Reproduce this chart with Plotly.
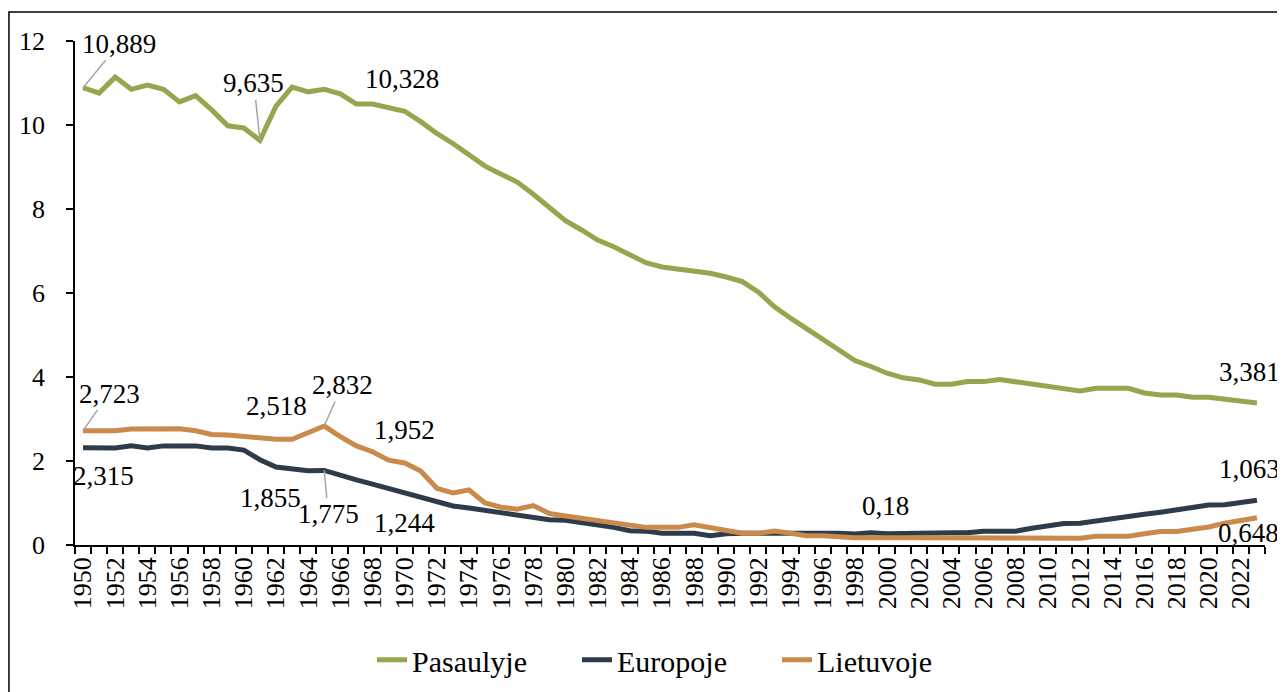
import plotly.graph_objects as go

years = list(range(1950, 2024))

pasaulyje = [10.889, 10.76, 11.14, 10.85, 10.95, 10.85, 10.55, 10.70, 10.36, 9.98,
             9.93, 9.635, 10.45, 10.90, 10.79, 10.85, 10.74, 10.50, 10.50, 10.40,
             10.328, 10.08, 9.80, 9.56, 9.29, 9.02, 8.83, 8.64, 8.35, 8.04,
             7.72, 7.50, 7.26, 7.10, 6.90, 6.72, 6.62, 6.57, 6.52, 6.47,
             6.38, 6.27, 6.02, 5.67, 5.40, 5.14, 4.90, 4.64, 4.39, 4.25,
             4.09, 3.98, 3.93, 3.83, 3.83, 3.89, 3.89, 3.94, 3.89, 3.83,
             3.78, 3.72, 3.67, 3.73, 3.73, 3.73, 3.62, 3.57, 3.57, 3.52,
             3.52, 3.47, 3.42, 3.381]

europoje = [2.315, 2.31, 2.31, 2.36, 2.31, 2.36, 2.36, 2.36, 2.31, 2.31,
            2.26, 2.03, 1.855, 1.80, 1.77, 1.775, 1.65, 1.55, 1.45, 1.35,
            1.244, 1.13, 1.02, 0.93, 0.88, 0.83, 0.77, 0.70, 0.65, 0.60,
            0.59, 0.54, 0.49, 0.42, 0.34, 0.33, 0.28, 0.28, 0.28, 0.22,
            0.27, 0.28, 0.28, 0.29, 0.28, 0.28, 0.28, 0.28, 0.26, 0.29,
            0.27, 0.28, 0.29, 0.29, 0.29, 0.29, 0.33, 0.33, 0.33, 0.40,
            0.45, 0.51, 0.52, 0.58, 0.63, 0.68, 0.73, 0.78, 0.83, 0.90,
            0.95, 0.96, 1.01, 1.063]

lietuvoje = [2.723, 2.72, 2.72, 2.76, 2.77, 2.77, 2.77, 2.72, 2.63, 2.62,
             2.58, 2.54, 2.52, 2.518, 2.67, 2.832, 2.58, 2.36, 2.22, 2.02,
             1.952, 1.76, 1.35, 1.24, 1.31, 1.00, 0.90, 0.85, 0.94, 0.75,
             0.69, 0.64, 0.58, 0.52, 0.46, 0.42, 0.42, 0.42, 0.48, 0.42,
             0.33, 0.28, 0.28, 0.33, 0.28, 0.22, 0.22, 0.19, 0.17, 0.17,
             0.18, 0.17, 0.17, 0.17, 0.17, 0.17, 0.17, 0.17, 0.17, 0.16,
             0.16, 0.16, 0.16, 0.21, 0.21, 0.21, 0.27, 0.32, 0.32, 0.37,
             0.43, 0.52, 0.59, 0.648]

tick_years = list(range(1950, 2023, 2))
y_ticks = [0, 2, 4, 6, 8, 10, 12]

series_names = ["Pasaulyje", "Europoje", "Lietuvoje"]
series_colors = ["#9AA34E", "#2E3B4B", "#C98A4B"]
legend_pad = [6, 6, 0]

# labelled points: (series index, year, label text, dx, dy, leader line, anchor)
labels = [
    (0, 1950, "10,889", 36, -44, True, "center"),
    (0, 1961, "9,635", -6, -57, True, "center"),
    (0, 1970, "10,328", -3, -32, False, "center"),
    (0, 2023, "3,381", 25, -31, False, "right"),
    (2, 1950, "2,723", 26, -37, True, "center"),
    (2, 1963, "2,518", -16, -33, False, "center"),
    (2, 1965, "2,832", 18, -41, True, "center"),
    (2, 1970, "1,952", 0, -33, False, "center"),
    (2, 2000, "0,18", -2, -31, False, "center"),
    (2, 2023, "0,648", 24, 15, False, "right"),
    (1, 1950, "2,315", 20, 28, False, "center"),
    (1, 1962, "1,855", -6, 31, False, "center"),
    (1, 1965, "1,775", 4, 44, True, "center"),
    (1, 1970, "1,244", 0, 30, False, "center"),
    (1, 2023, "1,063", 25, -31, False, "right"),
]

FONT = "Liberation Serif"
data = [pasaulyje, europoje, lietuvoje]
NB = "\u00a0"

fig = go.Figure()
for name, vals, col, pad in zip(series_names, data, series_colors, legend_pad):
    fig.add_trace(go.Scatter(x=years, y=vals, mode="lines", name=name + NB * pad,
                             line=dict(color=col, width=5), cliponaxis=False))

annotations = []
for si, yr, txt, dx, dy, lead, anc in labels:
    yv = data[si][years.index(yr)]
    if lead:
        annotations.append(dict(x=yr, y=yv, xref="x", yref="y", text=txt,
                                showarrow=True, ax=dx, ay=dy, arrowhead=0,
                                arrowwidth=1.5, arrowcolor="#A6A6A6",
                                font=dict(family=FONT, size=27, color="black")))
    else:
        annotations.append(dict(x=yr, y=yv, xref="x", yref="y", text=txt,
                                showarrow=False, xshift=dx, yshift=-dy, xanchor=anc,
                                font=dict(family=FONT, size=27, color="black")))

fig.update_layout(
    width=1277, height=684,
    margin=dict(l=67, r=20, t=33, b=147, autoexpand=False),
    paper_bgcolor="white", plot_bgcolor="white",
    font=dict(family=FONT, size=25, color="black"),
    showlegend=True,
    legend=dict(orientation="h", xref="paper", x=0.487, xanchor="center",
                yref="container", y=0.047, yanchor="middle",
                font=dict(family=FONT, size=30), tracegroupgap=0),
    annotations=annotations,
    shapes=[dict(type="rect", xref="paper", yref="paper",
                 x0=-0.0555, x1=1.04, y0=-0.35, y1=1.0575,
                 line=dict(color="black", width=1.5), layer="below")],
)

fig.update_xaxes(range=[1949.5, 2023.5], tickmode="array", tickvals=tick_years,
                 ticktext=[str(t) for t in tick_years], tickangle=-90,
                 ticks="", showline=True, linecolor="black", linewidth=1.5,
                 showgrid=False, zeroline=False, automargin=False,
                 tickfont=dict(family=FONT, size=26),
                 minor=dict(tickmode="linear", tick0=1949.5, dtick=1, ticks="outside",
                            ticklen=7, tickcolor="black", tickwidth=1.5, showgrid=False))

fig.update_yaxes(range=[0, 12], tickmode="array", tickvals=y_ticks,
                 ticks="outside", ticklen=7, tickwidth=1.5, tickcolor="black",
                 showline=True, linecolor="black", linewidth=1.5,
                 showgrid=False, zeroline=False, ticklabelstandoff=16, automargin=False,
                 tickfont=dict(family=FONT, size=26))

fig.write_html("out.html")
